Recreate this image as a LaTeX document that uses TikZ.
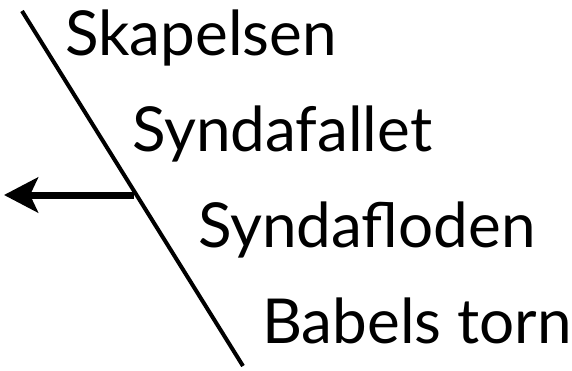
\documentclass[tikz,border=0pt]{standalone}
\usepackage{fontspec}
\setmainfont{Lato}
\usepackage{tikz}
\usetikzlibrary{arrows.meta}

\begin{document}
\begin{tikzpicture}[x=1pt,y=-1pt,
  label/.style={anchor=base west,inner sep=0pt,font=\fontsize{62}{64}\selectfont}]
\useasboundingbox (0,0) rectangle (572,370);
\coordinate (top) at (22,11);
\coordinate (bottom) at (243,366);
\coordinate (arrowstart) at (134,195);
\coordinate (arrowend) at (4,195);
\node (skapelsen) at (65,55) [label] {Skapelsen};
\node (syndafallet) at (132,151) [label] {Syndafallet};
\node (syndafloden) at (198,247) [label] {Syndafloden};
\node (babel) at (262,343) [label] {Babels torn};
\draw [line width=4pt] (top) -- (bottom);
\draw [line width=7pt,-{Stealth[length=34pt,width=35pt,inset=8pt]}] (arrowstart) -- (arrowend);
\end{tikzpicture}
\end{document}
